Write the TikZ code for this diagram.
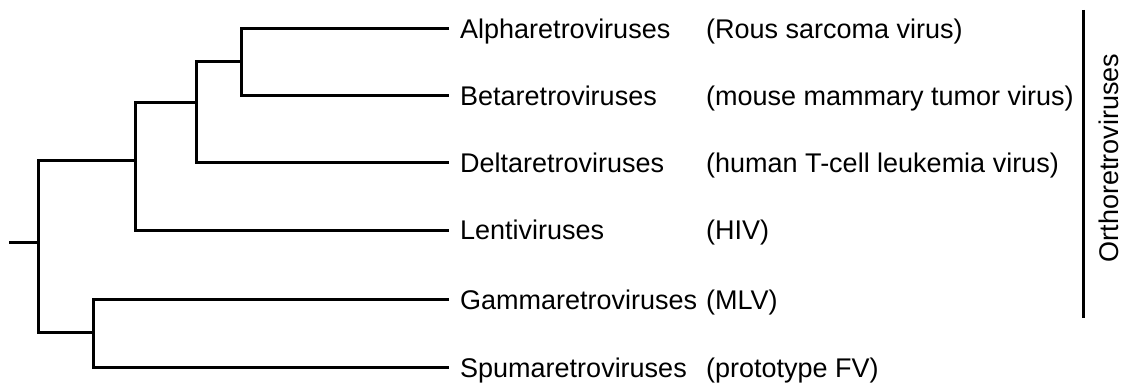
\documentclass[tikz,border=0pt]{standalone}
\usepackage{fontspec}
\setmainfont{Liberation Sans}
\begin{document}
\begin{tikzpicture}[x=1pt,y=-1pt,
  branch/.style={line width=3pt,line join=miter},
  taxon/.style={anchor=base west,inner sep=0pt,font=\fontsize{27}{30}\selectfont},
  group/.style={inner sep=0pt,font=\fontsize{27}{30}\selectfont}]
\useasboundingbox (0,0) rectangle (1125,385);
% leaf ends
\coordinate (aEnd) at (449,29);
\coordinate (bEnd) at (449,96);
\coordinate (dEnd) at (449,163);
\coordinate (lEnd) at (449,230);
\coordinate (gEnd) at (449,299);
\coordinate (sEnd) at (449,367);
% internal nodes
\coordinate (nab) at (241,62);
\coordinate (nabd) at (196,103);
\coordinate (nabdl) at (135,161);
\coordinate (ngs) at (93,332);
\coordinate (root) at (38,242);
\coordinate (stub) at (9,242);
% tree
\draw[branch] (aEnd) -| (nab) |- (bEnd);
\draw[branch] (nab) -| (nabd) |- (dEnd);
\draw[branch] (nabd) -| (nabdl) |- (lEnd);
\draw[branch] (gEnd) -| (ngs) |- (sEnd);
\draw[branch] (nabdl) -| (root) |- (ngs);
\draw[branch] (stub) -- (root);
% names
\node[taxon] (alpha) at (460,39) {Alpharetroviruses};
\node[taxon] (beta) at (460,106) {Betaretroviruses};
\node[taxon] (delta) at (460,173) {Deltaretroviruses};
\node[taxon] (lenti) at (460,240) {Lentiviruses};
\node[taxon] (gamma) at (460,309) {Gammaretroviruses};
\node[taxon] (spuma) at (460,377) {Spumaretroviruses};
% examples
\node[taxon] (ex1) at (706,39) {(Rous sarcoma virus)};
\node[taxon] (ex2) at (706,106) {(mouse mammary tumor virus)};
\node[taxon] (ex3) at (706,173) {(human T-cell leukemia virus)};
\node[taxon] (ex4) at (706,240) {(HIV)};
\node[taxon] (ex5) at (706,309) {(MLV)};
\node[taxon] (ex6) at (706,377) {(prototype FV)};
% group bar
\coordinate (barTop) at (1083,10);
\coordinate (barBot) at (1083,318);
\draw[branch] (barTop) -- (barBot);
\node[group,rotate=90,anchor=base] (ortho) at (1118,158) {Orthoretroviruses};
\end{tikzpicture}
\end{document}
